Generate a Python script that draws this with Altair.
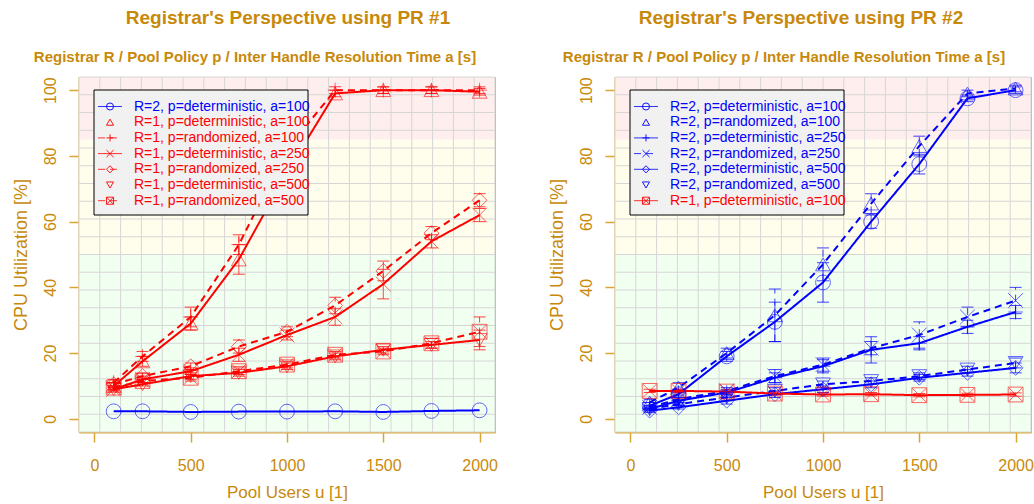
import altair as alt
import numpy as np
import pandas as pd

# ---------------- data ----------------
X_USERS = [100, 250, 500, 750, 1000, 1250, 1500, 1750, 2000]

# Panel 1: Registrar's Perspective using PR #1
PR1_LABELS = [
    "R=2, p=deterministic, a=100",
    "R=1, p=deterministic, a=100",
    "R=1, p=randomized, a=100",
    "R=1, p=deterministic, a=250",
    "R=1, p=randomized, a=250",
    "R=1, p=deterministic, a=500",
    "R=1, p=randomized, a=500",
]
PR1_R2_DET_100 = [2.3, 2.3, 2.1, 2.2, 2.2, 2.3, 2.1, 2.4, 2.6]
PR1_R1_DET_100 = [10, 17.5, 29, 48.5, 75, 99, 100, 100, 99.5]
PR1_R1_RND_100 = [11, 19, 31, 53, 82, 100, 100, 100, 100]
PR1_R1_DET_250 = [9, 12, 14.5, 19.5, 25.5, 31, 41, 54, 62]
PR1_R1_RND_250 = [10.5, 13, 16, 22, 26.5, 34.5, 45, 56.5, 66.5]
PR1_R1_DET_500 = [9, 10.5, 13, 14, 16, 19, 21, 22.5, 24]
PR1_R1_RND_500 = [9.5, 11.5, 12.5, 14.5, 16.5, 19.5, 20.5, 23, 26.5]

PR1_ERR_R2_DET_100 = [0, 0, 0, 0, 0, 0, 0, 0, 0]
PR1_ERR_R1_DET_100 = [1, 1.5, 2, 4.5, 2, 1, 1, 1, 1]
PR1_ERR_R1_RND_100 = [1, 1.5, 3, 3, 3, 1, 1, 1, 1]
PR1_ERR_R1_DET_250 = [0.5, 1, 1, 2, 1.5, 2.5, 4.5, 2, 2]
PR1_ERR_R1_RND_250 = [0.5, 1, 1, 2, 1.5, 2.5, 3, 2, 2]
PR1_ERR_R1_DET_500 = [0.5, 0.5, 1, 1, 1, 1, 1, 1, 3]
PR1_ERR_R1_RND_500 = [0.5, 0.5, 1, 1, 1, 1, 1, 1.5, 4.5]

# Panel 2: Registrar's Perspective using PR #2
PR2_LABELS = [
    "R=2, p=deterministic, a=100",
    "R=2, p=randomized, a=100",
    "R=2, p=deterministic, a=250",
    "R=2, p=randomized, a=250",
    "R=2, p=deterministic, a=500",
    "R=2, p=randomized, a=500",
    "R=1, p=deterministic, a=100",
]
PR2_R2_DET_100 = [4, 7.5, 19, 29.5, 41.5, 60, 77.5, 97.5, 100]
PR2_R2_RND_100 = [5, 9.5, 20, 31.5, 47, 65.5, 83, 99, 100.5]
PR2_R2_DET_250 = [3, 5.5, 8, 12.5, 16, 21, 23, 28, 32.5]
PR2_R2_RND_250 = [3.5, 6, 8.5, 13, 16.5, 21.5, 25.5, 31, 36]
PR2_R2_DET_500 = [2.5, 3.5, 5.5, 7.5, 9, 10.5, 12.5, 14, 15.5]
PR2_R2_RND_500 = [3, 4.5, 6.5, 8.5, 10.5, 11.5, 13, 15, 17]
PR2_R1_DET_100 = [8.5, 8.5, 8.3, 7.7, 7.4, 7.5, 7.2, 7.3, 7.4]

PR2_ERR_R2_DET_100 = [1, 1.5, 1.5, 6, 6, 2, 3, 1, 1]
PR2_ERR_R2_RND_100 = [1, 1.5, 1.5, 8, 5, 3, 3, 1, 1]
PR2_ERR_R2_DET_250 = [0.5, 1, 1, 1.5, 2, 4, 2, 2, 2]
PR2_ERR_R2_RND_250 = [0.5, 1, 1, 2, 2, 2, 4, 3, 4]
PR2_ERR_R2_DET_500 = [0.5, 0.5, 1, 1, 1, 1, 1, 1, 1.5]
PR2_ERR_R2_RND_500 = [0.5, 0.5, 1, 1, 1, 1, 1, 1, 1.5]
PR2_ERR_R1_DET_100 = [0.5, 0.5, 0.5, 0.5, 0.5, 0.5, 0.5, 0.5, 0.5]

X_TICKS = [0, 500, 1000, 1500, 2000]
Y_TICKS = [0, 20, 40, 60, 80, 100]

# ---------------- styling ----------------
BLUE = "#0000ff"
RED = "#ff0000"
GOLD = "#c8890a"
GOLD_LINE = "#dba534"
GRID = "#d6d6d6"
SOLID = [1, 0]
DASH = [7, 5]
PLUS = "M-1,0L1,0M0,-1L0,1"
XSYM = "M-1,-1L1,1M-1,1L1,-1"
BOXX = "M-1,-1L1,-1L1,1L-1,1ZM-1,-1L1,1M-1,1L1,-1"

PR1_COLORS = [BLUE, RED, RED, RED, RED, RED, RED]
PR1_DASHES = [SOLID, SOLID, DASH, SOLID, DASH, SOLID, DASH]
PR1_SHAPES = ["circle", "triangle-up", PLUS, XSYM, "diamond", "triangle-down", BOXX]
PR2_COLORS = [BLUE, BLUE, BLUE, BLUE, BLUE, BLUE, RED]
PR2_DASHES = [SOLID, DASH, SOLID, DASH, SOLID, DASH, SOLID]
PR2_SHAPES = ["circle", "triangle-up", PLUS, XSYM, "diamond", "triangle-down", BOXX]
LEGEND_LINES = [True, False, True, True, True, False, True]

W, H = 416, 355
XDOM = [-80, 2080]
YDOM = [-4, 104]
GRID_X = list(np.linspace(XDOM[0], XDOM[1], 21))
GRID_Y = list(np.linspace(YDOM[0], YDOM[1], 21))
BAND_LO = [-4, 50, 85]
BAND_HI = [50, 85, 104]
BAND_FILL = ["#f1fff1", "#fffdec", "#ffeeee"]

X_AXIS = alt.Axis(values=X_TICKS, title="Pool Users u [1]", grid=False, format="d",
                  labelFontSize=16, labelColor=GOLD, labelPadding=15, labelFlush=False,
                  tickColor=GOLD_LINE, tickSize=10, tickWidth=1.5,
                  domainColor=GOLD_LINE, domainWidth=2,
                  titleFontSize=17, titleFontWeight="normal", titleColor=GOLD, titlePadding=11)
Y_AXIS = alt.Axis(values=Y_TICKS, title="CPU Utilization [%]", grid=False, format="d",
                  labelFontSize=16, labelColor=GOLD, labelPadding=11,
                  labelAngle=-90, labelAlign="center", labelBaseline="bottom",
                  tickColor=GOLD_LINE, tickSize=10, tickWidth=1.5,
                  domainColor=GOLD_LINE, domainWidth=2,
                  titleFontSize=18, titleFontWeight="normal", titleColor=GOLD, titlePadding=12)


def panel(title, labels, series, errors, colors, dashes, shapes, title_x, sub_x):
    rows = []
    for lab, vals, errs in zip(labels, series, errors):
        for u, v, e in zip(X_USERS, vals, errs):
            rows.append({"series": lab, "u": u, "cpu": v, "err": e,
                         "lo": v - e, "hi": v + e})
    df = pd.DataFrame(rows)
    df_err = df[df["err"] > 0]

    xs = alt.Scale(domain=XDOM, nice=False, zero=False)
    ys = alt.Scale(domain=YDOM, nice=False, zero=False)
    X = alt.X("u:Q", scale=xs, axis=X_AXIS)
    Y = alt.Y("cpu:Q", scale=ys, axis=Y_AXIS)
    color = alt.Color("series:N", scale=alt.Scale(domain=labels, range=colors), legend=None)
    dash = alt.StrokeDash("series:N", scale=alt.Scale(domain=labels, range=dashes), legend=None)
    shape = alt.Shape("series:N", scale=alt.Scale(domain=labels, range=shapes), legend=None)

    bands = alt.Chart(pd.DataFrame({"lo": BAND_LO, "hi": BAND_HI, "fill": BAND_FILL})).mark_rect().encode(
        x=alt.value(0), x2=alt.value(W),
        y=alt.Y("lo:Q", scale=ys, axis=Y_AXIS), y2="hi:Q",
        fill=alt.Fill("fill:N", scale=None))
    vgrid = alt.Chart(pd.DataFrame({"g": GRID_X})).mark_rule(color=GRID, strokeWidth=1).encode(
        x=alt.X("g:Q", scale=xs, axis=X_AXIS), y=alt.value(0), y2=alt.value(H))
    hgrid = alt.Chart(pd.DataFrame({"g": GRID_Y})).mark_rule(color=GRID, strokeWidth=1).encode(
        y=alt.Y("g:Q", scale=ys, axis=Y_AXIS), x=alt.value(0), x2=alt.value(W))

    ebar = alt.Chart(df_err).mark_rule(strokeWidth=1, opacity=0.75).encode(
        x=X, y=alt.Y("lo:Q", scale=ys, axis=Y_AXIS), y2="hi:Q", color=color, strokeDash=dash)
    cap_lo = alt.Chart(df_err).mark_tick(orient="horizontal", size=12, thickness=1, opacity=0.75).encode(
        x=X, y=alt.Y("lo:Q", scale=ys, axis=Y_AXIS), color=color)
    cap_hi = alt.Chart(df_err).mark_tick(orient="horizontal", size=12, thickness=1, opacity=0.75).encode(
        x=X, y=alt.Y("hi:Q", scale=ys, axis=Y_AXIS), color=color)

    lines = alt.Chart(df).mark_line(strokeWidth=2).encode(x=X, y=Y, color=color, strokeDash=dash)
    points = alt.Chart(df).mark_point(filled=False, size=220, strokeWidth=1, opacity=0.6).encode(
        x=X, y=Y, color=color, shape=shape)

    layers = [bands, vgrid, hgrid, ebar, cap_lo, cap_hi, lines, points]

    # legend box (drawn like the reference's in-plot legend)
    one = pd.DataFrame({"k": [0]})
    layers.append(alt.Chart(one).mark_rect(fill="#f1f1f1", stroke="black", strokeWidth=1).encode(
        x=alt.value(15), x2=alt.value(229), y=alt.value(13), y2=alt.value(138)))
    for i, (lab, col, dsh, shp, showline) in enumerate(zip(labels, colors, dashes, shapes, LEGEND_LINES)):
        ry = 29.5 + i * 15.7
        d = pd.DataFrame({"label": [lab]})
        if showline:
            layers.append(alt.Chart(d).mark_rule(color=col, strokeDash=dsh, strokeWidth=1, opacity=0.8).encode(
                x=alt.value(19), x2=alt.value(43), y=alt.value(ry)))
        layers.append(alt.Chart(d).mark_point(shape=shp, filled=False, size=50, color=col,
                                              strokeWidth=1, opacity=0.9).encode(
            x=alt.value(31), y=alt.value(ry)))
        layers.append(alt.Chart(d).mark_text(align="left", baseline="middle", fontSize=14, color=col).encode(
            x=alt.value(55), y=alt.value(ry), text=alt.Text("label:N")))

    # titles
    layers.append(alt.Chart(pd.DataFrame({"t": [title]})).mark_text(
        fontSize=19, fontWeight="bold", color=GOLD, align="center", baseline="middle").encode(
        x=alt.value(title_x), y=alt.value(-59), text="t:N"))
    layers.append(alt.Chart(pd.DataFrame({"t": ["Registrar R / Pool Policy p / Inter Handle Resolution Time a [s]"]})).mark_text(
        fontSize=15, fontWeight="bold", color=GOLD, align="center", baseline="middle").encode(
        x=alt.value(sub_x), y=alt.value(-20), text="t:N"))

    return alt.layer(*layers).properties(width=W, height=H)


left = panel("Registrar's Perspective using PR #1", PR1_LABELS,
             [PR1_R2_DET_100, PR1_R1_DET_100, PR1_R1_RND_100, PR1_R1_DET_250,
              PR1_R1_RND_250, PR1_R1_DET_500, PR1_R1_RND_500],
             [PR1_ERR_R2_DET_100, PR1_ERR_R1_DET_100, PR1_ERR_R1_RND_100, PR1_ERR_R1_DET_250,
              PR1_ERR_R1_RND_250, PR1_ERR_R1_DET_500, PR1_ERR_R1_RND_500],
             PR1_COLORS, PR1_DASHES, PR1_SHAPES, 209, 176)
right = panel("Registrar's Perspective using PR #2", PR2_LABELS,
              [PR2_R2_DET_100, PR2_R2_RND_100, PR2_R2_DET_250, PR2_R2_RND_250,
               PR2_R2_DET_500, PR2_R2_RND_500, PR2_R1_DET_100],
              [PR2_ERR_R2_DET_100, PR2_ERR_R2_RND_100, PR2_ERR_R2_DET_250, PR2_ERR_R2_RND_250,
               PR2_ERR_R2_DET_500, PR2_ERR_R2_RND_500, PR2_ERR_R1_DET_100],
              PR2_COLORS, PR2_DASHES, PR2_SHAPES, 186, 169)

chart = alt.hconcat(left, right, spacing=49).resolve_scale(
    color="independent", strokeDash="independent", shape="independent",
    x="independent", y="independent", fill="independent"
).properties(
    padding={"left": 11, "top": 8, "right": 0, "bottom": 0}
).configure(font="Liberation Sans").configure_view(stroke=GOLD_LINE, strokeWidth=1)

chart.save("out.html", embed_options={"renderer": "svg", "actions": False})
